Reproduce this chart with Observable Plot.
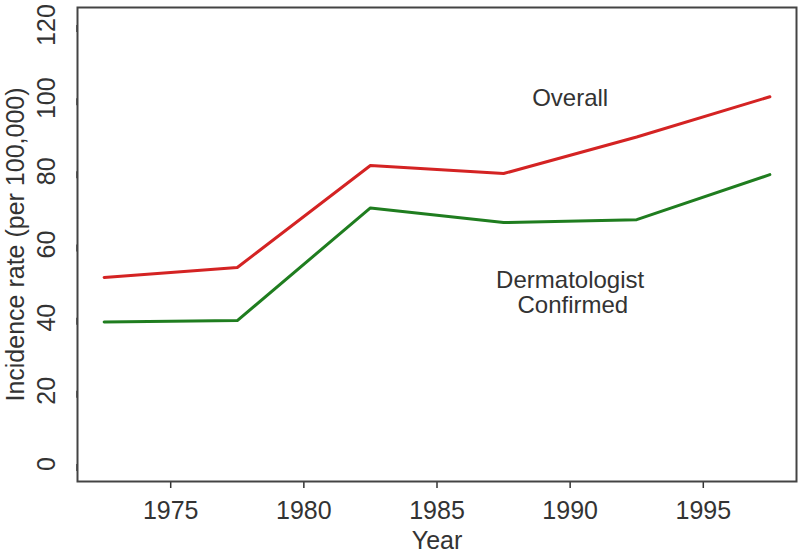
<!DOCTYPE html>
<html>
<head>
<meta charset="utf-8">
<script src="https://cdn.jsdelivr.net/npm/d3@7"></script>
<script src="https://cdn.jsdelivr.net/npm/@observablehq/plot@0.6"></script>
<style>
  html, body { margin: 0; padding: 0; background: #fff; }
</style>
</head>
<body>
<div id="chart"></div>
<script>
const years = [1972.5, 1977.5, 1982.5, 1987.5, 1992.5, 1997.5];
const overall = [51.0, 53.7, 81.6, 79.4, 89.4, 100.4];
const dermConfirmed = [38.8, 39.2, 70.0, 66.0, 66.8, 79.1];
const xTicks = [1975, 1980, 1985, 1990, 1995];
const yTicks = [0, 20, 40, 60, 80, 100, 120];
const labels = ["Overall", "Dermatologist", "Confirmed"];
const labelX = [1990, 1990, 1990.1];
const labelY = [100, 50.3, 43.5];

const rows = [];
years.forEach((yr, i) => {
  rows.push({year: yr, rate: overall[i], series: "Overall"});
  rows.push({year: yr, rate: dermConfirmed[i], series: "Dermatologist Confirmed"});
});
const labelRows = labels.map((t, i) => ({text: t, x: labelX[i], y: labelY[i]}));

const ink = "#333333";
const chart = Plot.plot({
  width: 800,
  height: 554,
  marginLeft: 77,
  marginRight: 4,
  marginTop: 7,
  marginBottom: 73,
  style: {fontFamily: "Liberation Sans, Arial, sans-serif", fontSize: "24px", color: ink, background: "#fff"},
  x: {domain: [1971.5, 1998.5]},
  y: {domain: [-4.8, 124.8]},
  color: {domain: ["Overall", "Dermatologist Confirmed"], range: ["#d42323", "#1f7d1f"]},
  marks: [
    Plot.axisX({ticks: xTicks, tickSize: 7, tickPadding: 13, tickFormat: d => String(d), label: null, stroke: ink, strokeWidth: 1.5, fill: ink, fontSize: 25}),
    Plot.axisY({ticks: yTicks, tickSize: 7, tickPadding: 24, rotate: -90, textAnchor: "middle", lineAnchor: "middle", label: null, stroke: ink, strokeWidth: 1.5, fill: ink, fontSize: 25}),
    Plot.line(rows, {x: "year", y: "rate", z: "series", stroke: "series", strokeWidth: 3}),
    Plot.text(labelRows, {x: "x", y: "y", text: "text", fill: ink, fontSize: 24}),
    Plot.text(["Incidence rate (per 100,000)"], {frameAnchor: "left", textAnchor: "middle", dx: -62, rotate: -90, fill: ink, fontSize: 25}),
    Plot.text(["Year"], {frameAnchor: "bottom", textAnchor: "middle", lineAnchor: "middle", dy: 59, fill: ink, fontSize: 25}),
    Plot.frame({stroke: "#444", strokeWidth: 2})
  ]
});
document.getElementById("chart").appendChild(chart);
</script>
</body>
</html>
